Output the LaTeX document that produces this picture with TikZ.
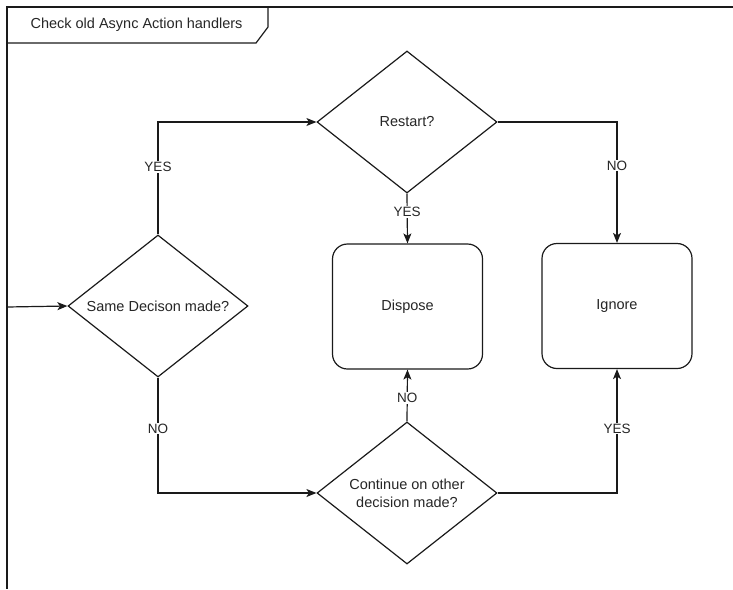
\documentclass[tikz,border=0pt]{standalone}
\usepackage{fontspec}
\setmainfont{Liberation Sans}
\usetikzlibrary{arrows.meta, shapes.geometric}
\definecolor{flow-line}{HTML}{1A1A1A}
\definecolor{flow-text}{HTML}{262626}
\tikzset{
  flow-decision/.style={
    diamond, aspect=1.27, draw=flow-line, fill=white, line width=1.2pt,
    minimum width=180pt, minimum height=142pt, inner sep=0pt,
    align=center, text=flow-text, font=\fontsize{14.5}{18}\selectfont
  },
  flow-action/.style={
    rectangle, rounded corners=15pt, draw=flow-line, fill=white, line width=1.2pt,
    minimum width=150pt, minimum height=125pt, align=center,
    text=flow-text, font=\fontsize{14.5}{18}\selectfont
  },
  flow-edge/.style={-{Stealth[length=10pt, width=8pt, inset=2.5pt]}, line width=1.2pt, draw=flow-line},
  flow-label/.style={fill=white, inner sep=1pt, text=flow-text, font=\fontsize{13.5}{16}\selectfont}
}

\begin{document}
\begin{tikzpicture}[x=1pt, y=-1pt]
  \useasboundingbox (0,0) rectangle (733,589);

  % Frame with its title tab
  \draw[flow-line, line width=1.2pt] (733,7) -- (7,7) -- (7,589);
  \draw[flow-line, line width=1.2pt] (7,43) -- (256,43) -- (268,27) -- (268,7);
  \node[text=flow-text, font=\fontsize{14.5}{18}\selectfont, anchor=west] (title) at (27,25) {Check old Async Action handlers};

  \coordinate (entry) at (7,307);

  \node[flow-decision] (same)     at (158,306) {Same Decison made?};
  \node[flow-decision] (restart)  at (407,122) {Restart?};
  \node[flow-decision] (continue) at (407,493) {Continue on other\\decision made?};
  \node[flow-action]   (dispose)  at (407.5,306.5) {Dispose};
  \node[flow-action]   (ignore)   at (617,306) {Ignore};

  % Entry into the first decision
  \draw[flow-edge] (entry) -- (same.west);

  % Same decision: YES goes up, NO goes down
  \draw[flow-edge] (same.north) |- node[flow-label, pos=0.3] {YES} (restart.west);
  \draw[flow-edge] (same.south) |- node[flow-label, pos=0.22] {NO} (continue.west);

  % Restart?
  \draw[flow-edge] (restart.south) -- node[flow-label, pos=0.37] {YES} (dispose.north);
  \draw[flow-edge] (restart.east) -| node[flow-label, pos=0.68] {NO} (ignore.north);

  % Continue on other decision made?
  \draw[flow-edge] (continue.north) -- node[flow-label, pos=0.45] {NO} (dispose.south);
  \draw[flow-edge] (continue.east) -| node[flow-label, pos=0.76] {YES} (ignore.south);
\end{tikzpicture}
\end{document}
